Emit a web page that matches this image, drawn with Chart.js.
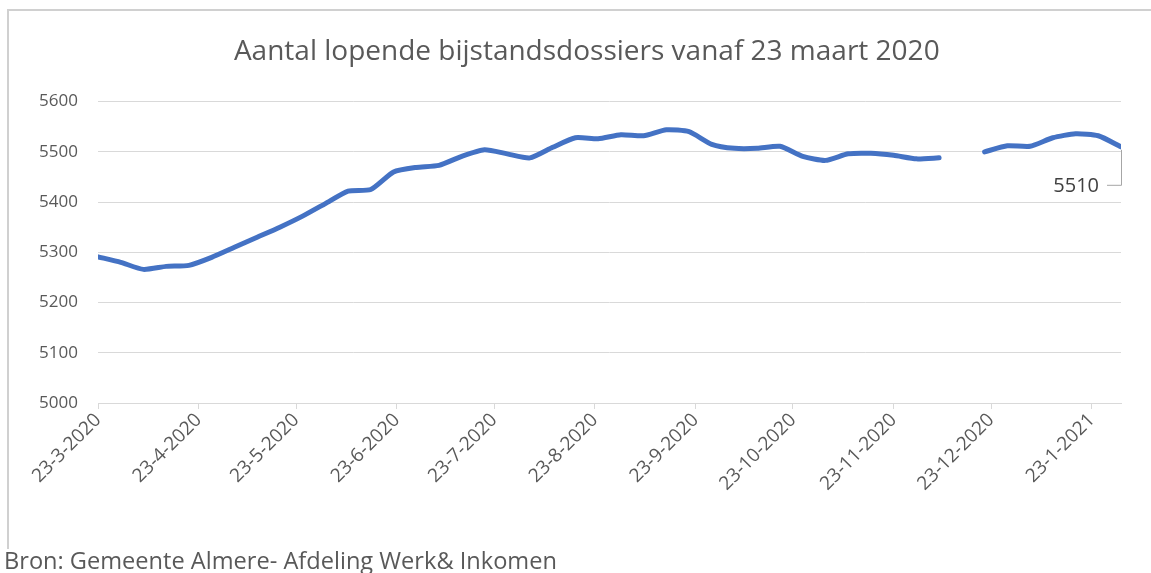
<!DOCTYPE html>
<html>
<head>
<meta charset="utf-8">
<script src="https://cdn.jsdelivr.net/npm/chart.js@4/dist/chart.umd.min.js"></script>
<style>
  html, body { margin: 0; padding: 0; background: #fff; }
  body { width: 1151px; height: 573px; position: relative; overflow: hidden; font-family: "Open Sans", sans-serif; }
  #frame { position: absolute; left: 7px; top: 9px; width: 1160px; height: 538px; border-left: 2px solid #d0d0d0; border-top: 2px solid #d0d0d0; }
  #chart { position: absolute; left: 0; top: 0; }
  #source { position: absolute; left: 4px; top: 549px; font-size: 23.6px; line-height: 1; color: #595959; white-space: nowrap; }
</style>
</head>
<body>
<div id="frame"></div>
<canvas id="chart" width="1151" height="573"></canvas>
<div id="source">Bron: Gemeente Almere- Afdeling Werk&amp; Inkomen</div>
<script>
// weekly dates (mondays)
var weekDates = [
  '2020-03-23', '2020-03-30', '2020-04-06', '2020-04-13', '2020-04-20', '2020-04-27',
  '2020-05-04', '2020-05-11', '2020-05-18', '2020-05-25', '2020-06-01', '2020-06-08',
  '2020-06-15', '2020-06-22', '2020-06-29', '2020-07-06', '2020-07-13', '2020-07-20',
  '2020-07-27', '2020-08-03', '2020-08-10', '2020-08-17', '2020-08-24', '2020-08-31',
  '2020-09-07', '2020-09-14', '2020-09-21', '2020-09-28', '2020-10-05', '2020-10-12',
  '2020-10-19', '2020-10-26', '2020-11-02', '2020-11-09', '2020-11-16', '2020-11-23',
  '2020-11-30', '2020-12-07', '2020-12-14', '2020-12-21', '2020-12-28', '2021-01-04',
  '2021-01-11', '2021-01-18', '2021-01-25', '2021-02-01'
];

// lopende dossiers, null = no data that week
var dossiers = [
  5291, 5280, 5266, 5272, 5274, 5290,
  5310, 5330, 5350, 5372, 5397, 5422,
  5425, 5460, 5469, 5473, 5491, 5504,
  5496, 5488, 5509, 5528, 5526, 5534,
  5532, 5544, 5540, 5515, 5507, 5507,
  5511, 5491, 5483, 5496, 5497, 5493,
  5486, 5488, null, 5500, 5512, 5511,
  5528, 5536, 5532, 5510
];

var tickLabels = ['23-3-2020', '23-4-2020', '23-5-2020', '23-6-2020', '23-7-2020', '23-8-2020',
  '23-9-2020', '23-10-2020', '23-11-2020', '23-12-2020', '23-1-2021'];

var yTicks = [5000, 5100, 5200, 5300, 5400, 5500, 5600];

var grey = '#595959';

function dayNum(iso) {
  var p = iso.split('-');
  return Date.UTC(+p[0], +p[1] - 1, +p[2]) / 86400000;
}

function labelDay(lbl) {
  var p = lbl.split('-');
  return Date.UTC(+p[2], +p[1] - 1, +p[0]) / 86400000;
}

var points = weekDates.map(function (d, i) {
  return { x: dayNum(d), y: dossiers[i] };
});

// label with leader line for the last value
var lastLabel = {
  id: 'lastLabel',
  afterDatasetsDraw: function (chart) {
    var meta = chart.getDatasetMeta(0);
    var last = meta.data[meta.data.length - 1];
    var ctx = chart.ctx;
    var px = last.x, py = last.y;
    var ly = py + 38;
    ctx.save();
    ctx.strokeStyle = '#a6a6a6';
    ctx.lineWidth = 1;
    ctx.beginPath();
    ctx.moveTo(px + 0.5, py + 3);
    ctx.lineTo(px + 0.5, ly + 0.5);
    ctx.lineTo(px - 14, ly + 0.5);
    ctx.stroke();
    ctx.fillStyle = '#404040';
    ctx.font = '20px "Open Sans"';
    ctx.textAlign = 'right';
    ctx.textBaseline = 'middle';
    ctx.fillText(String(dossiers[dossiers.length - 1]), px - 22, ly + 1);
    ctx.restore();
  }
};

var chart = new Chart(document.getElementById('chart'), {
  type: 'line',
  data: {
    datasets: [
      {
        data: points,
        borderColor: '#4472C4',
        borderWidth: 5,
        pointRadius: 0,
        tension: 0.2,
        spanGaps: false,
        borderCapStyle: 'round',
        borderJoinStyle: 'round',
        fill: false
      }
    ]
  },
  options: {
    responsive: false,
    animation: false,
    layout: {
      padding: { top: 35, left: 38, right: 30, bottom: 60 }
    },
    plugins: {
      legend: { display: false },
      tooltip: { enabled: false },
      title: {
        display: true,
        // leading spaces nudge the centred title a little to the right, like the original
        text: '  Aantal lopende bijstandsdossiers vanaf 23 maart 2020',
        color: grey,
        font: { family: '"Open Sans"', size: 28, weight: 'normal', lineHeight: 1.2 },
        padding: { top: 0, bottom: 33 }
      }
    },
    scales: {
      x: {
        type: 'linear',
        min: dayNum(weekDates[0]),
        max: dayNum(weekDates[weekDates.length - 1]),
        afterBuildTicks: function (scale) {
          scale.ticks = tickLabels.map(function (l) { return { value: labelDay(l) }; });
        },
        afterFit: function (scale) { scale.height = 110; },
        ticks: {
          autoSkip: false,
          maxRotation: 45,
          minRotation: 45,
          padding: 0,
          color: grey,
          font: { family: '"Open Sans"', size: 19 },
          callback: function (value, index) { return tickLabels[index]; }
        },
        grid: {
          drawOnChartArea: false,
          drawTicks: true,
          tickLength: 6,
          color: '#d9d9d9'
        },
        border: { color: '#d9d9d9', width: 1 }
      },
      y: {
        min: yTicks[0],
        max: yTicks[yTicks.length - 1],
        afterBuildTicks: function (scale) {
          scale.ticks = yTicks.map(function (v) { return { value: v }; });
        },
        afterFit: function (scale) { scale.width = 60; },
        ticks: {
          padding: 20,
          color: grey,
          font: { family: '"Open Sans"', size: 17 },
          callback: function (value) { return String(value); }
        },
        grid: {
          color: '#d9d9d9',
          lineWidth: 1,
          drawTicks: false
        },
        border: { display: false }
      }
    }
  },
  plugins: [lastLabel]
});
</script>
</body>
</html>
